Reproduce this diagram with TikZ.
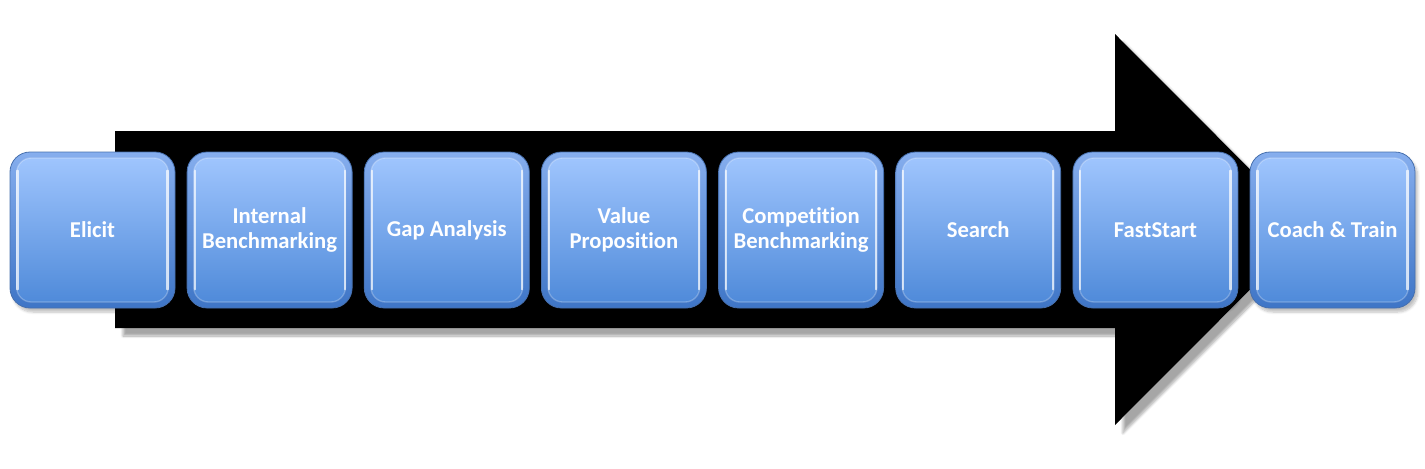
\documentclass[tikz,border=0pt]{standalone}
\usepackage{fontspec}
\setmainfont{Carlito}[Ligatures=NoCommon]
\usetikzlibrary{shadows.blur}
\definecolor{outtop}{HTML}{86AEEE}
\definecolor{outbot}{HTML}{3E75C6}
\definecolor{intop}{HTML}{A2C7FF}
\definecolor{inbot}{HTML}{4C88D8}
\definecolor{rim}{HTML}{4770AE}
\tikzset{
  stepbox/.style={draw=rim, line width=0.6pt, rounded corners=15pt,
    minimum width=123.75pt, minimum height=117pt, inner sep=0pt,
    top color=outtop, bottom color=outbot,
    blur shadow={shadow xshift=2pt, shadow yshift=-3pt, shadow blur steps=6, shadow opacity=25},
    text=white, font=\bfseries\fontsize{17}{19}\selectfont, align=center,
    path picture={
      \shade[top color=intop, bottom color=inbot, rounded corners=11pt]
        ([shift={(5pt,-4.5pt)}]path picture bounding box.north west) rectangle
        ([shift={(-5pt,4.5pt)}]path picture bounding box.south east);
      \draw[white, opacity=0.25, line width=1pt, rounded corners=11pt]
        ([shift={(5pt,-4.5pt)}]path picture bounding box.north west) rectangle
        ([shift={(-5pt,4.5pt)}]path picture bounding box.south east);
      \draw[white, opacity=0.7, line width=1.6pt, line cap=round]
        ([shift={(5.6pt,-14pt)}]path picture bounding box.north west) --
        ([shift={(5.6pt,14pt)}]path picture bounding box.south west);
      \draw[white, opacity=0.7, line width=1.6pt, line cap=round]
        ([shift={(-5.6pt,-14pt)}]path picture bounding box.north east) --
        ([shift={(-5.6pt,14pt)}]path picture bounding box.south east);
    }},
  bigarrow/.style={fill=black,
    blur shadow={shadow xshift=6pt, shadow yshift=-6pt, shadow blur steps=12, shadow opacity=35}}
}
\begin{document}
\begin{tikzpicture}[x=0.75pt, y=-0.75pt]
\useasboundingbox (0,0) rectangle (1425,468);
\fill[bigarrow] (115,131) -- (1115,131) -- (1115,34) -- (1310,229.5)
  -- (1115,425) -- (1115,328) -- (115,328) -- cycle;
\node[stepbox] (n1) at (92.5,230) {Elicit};
\node[stepbox] (n2) at (269.6,230) {Internal\\Benchmarking};
\node[stepbox] (n3) at (446.8,230) {Gap Analysis};
\node[stepbox] (n4) at (623.9,230) {Value\\Proposition};
\node[stepbox] (n5) at (801.1,230) {Competition\\Benchmarking};
\node[stepbox] (n6) at (978.2,230) {Search};
\node[stepbox] (n7) at (1155.4,230) {FastStart};
\node[stepbox] (n8) at (1332.5,230) {Coach \& Train};
\end{tikzpicture}
\end{document}
